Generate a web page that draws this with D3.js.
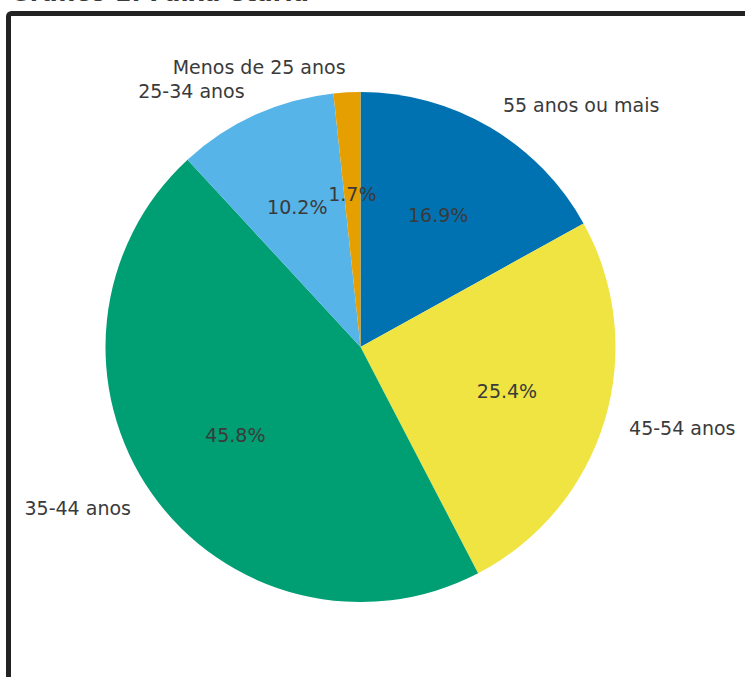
<!DOCTYPE html>
<html><head><meta charset="utf-8">
<script src="https://cdn.jsdelivr.net/npm/d3@7"></script>
<style>html,body{margin:0;padding:0;background:#fff;overflow:hidden}</style>
</head><body>
<script>
const categories = ["55 anos ou mais", "45-54 anos", "35-44 anos", "25-34 anos", "Menos de 25 anos"];
const values = [10, 15, 27, 6, 1];
const colors = ["#0072B2", "#F0E442", "#009E73", "#56B4E9", "#E69F00"];
const title = "Gráfico 1: Faixa etária";

const W = 745, H = 677;
const svg = d3.select("body").append("svg").attr("width", W).attr("height", H);

svg.append("text").attr("x", 10).attr("y", 0.5).attr("font-family", "DejaVu Sans")
  .attr("font-size", 24).attr("font-weight", "bold").attr("fill", "#3a3a3a").text(title);

svg.append("rect").attr("x", 8.5).attr("y", 13.5).attr("width", 800).attr("height", 720)
  .attr("rx", 3).attr("fill", "none").attr("stroke", "#222").attr("stroke-width", 5);

const cx = 360.5, cy = 347, r = 255;
const g = svg.append("g").attr("transform", `translate(${cx},${cy})`);
const data = categories.map((c, i) => ({c, v: values[i], col: colors[i]}));
const total = d3.sum(values);
const pie = d3.pie().value(d => d.v).sort(null);
const arcs = pie(data);
const arc = d3.arc().innerRadius(0).outerRadius(r);

g.selectAll("path").data(arcs).join("path").attr("d", arc).attr("fill", d => d.data.col);

const fmt = d3.format(".1f");
arcs.forEach(a => {
  const m = (a.startAngle + a.endAngle) / 2;
  const sx = Math.sin(m), sy = -Math.cos(m);
  g.append("text").attr("x", sx * r * 1.1).attr("y", sy * r * 1.1).attr("dy", "0.35em")
    .attr("text-anchor", sx >= 0 ? "start" : "end")
    .attr("font-family", "DejaVu Sans").attr("font-size", 19).attr("fill", "#3a3a3a")
    .text(a.data.c);
  g.append("text").attr("x", sx * r * 0.6).attr("y", sy * r * 0.6).attr("dy", "0.35em")
    .attr("text-anchor", "middle")
    .attr("font-family", "DejaVu Sans").attr("font-size", 19).attr("fill", "#3a3a3a")
    .text(fmt(a.data.v / total * 100) + "%");
});
</script>
</body></html>
